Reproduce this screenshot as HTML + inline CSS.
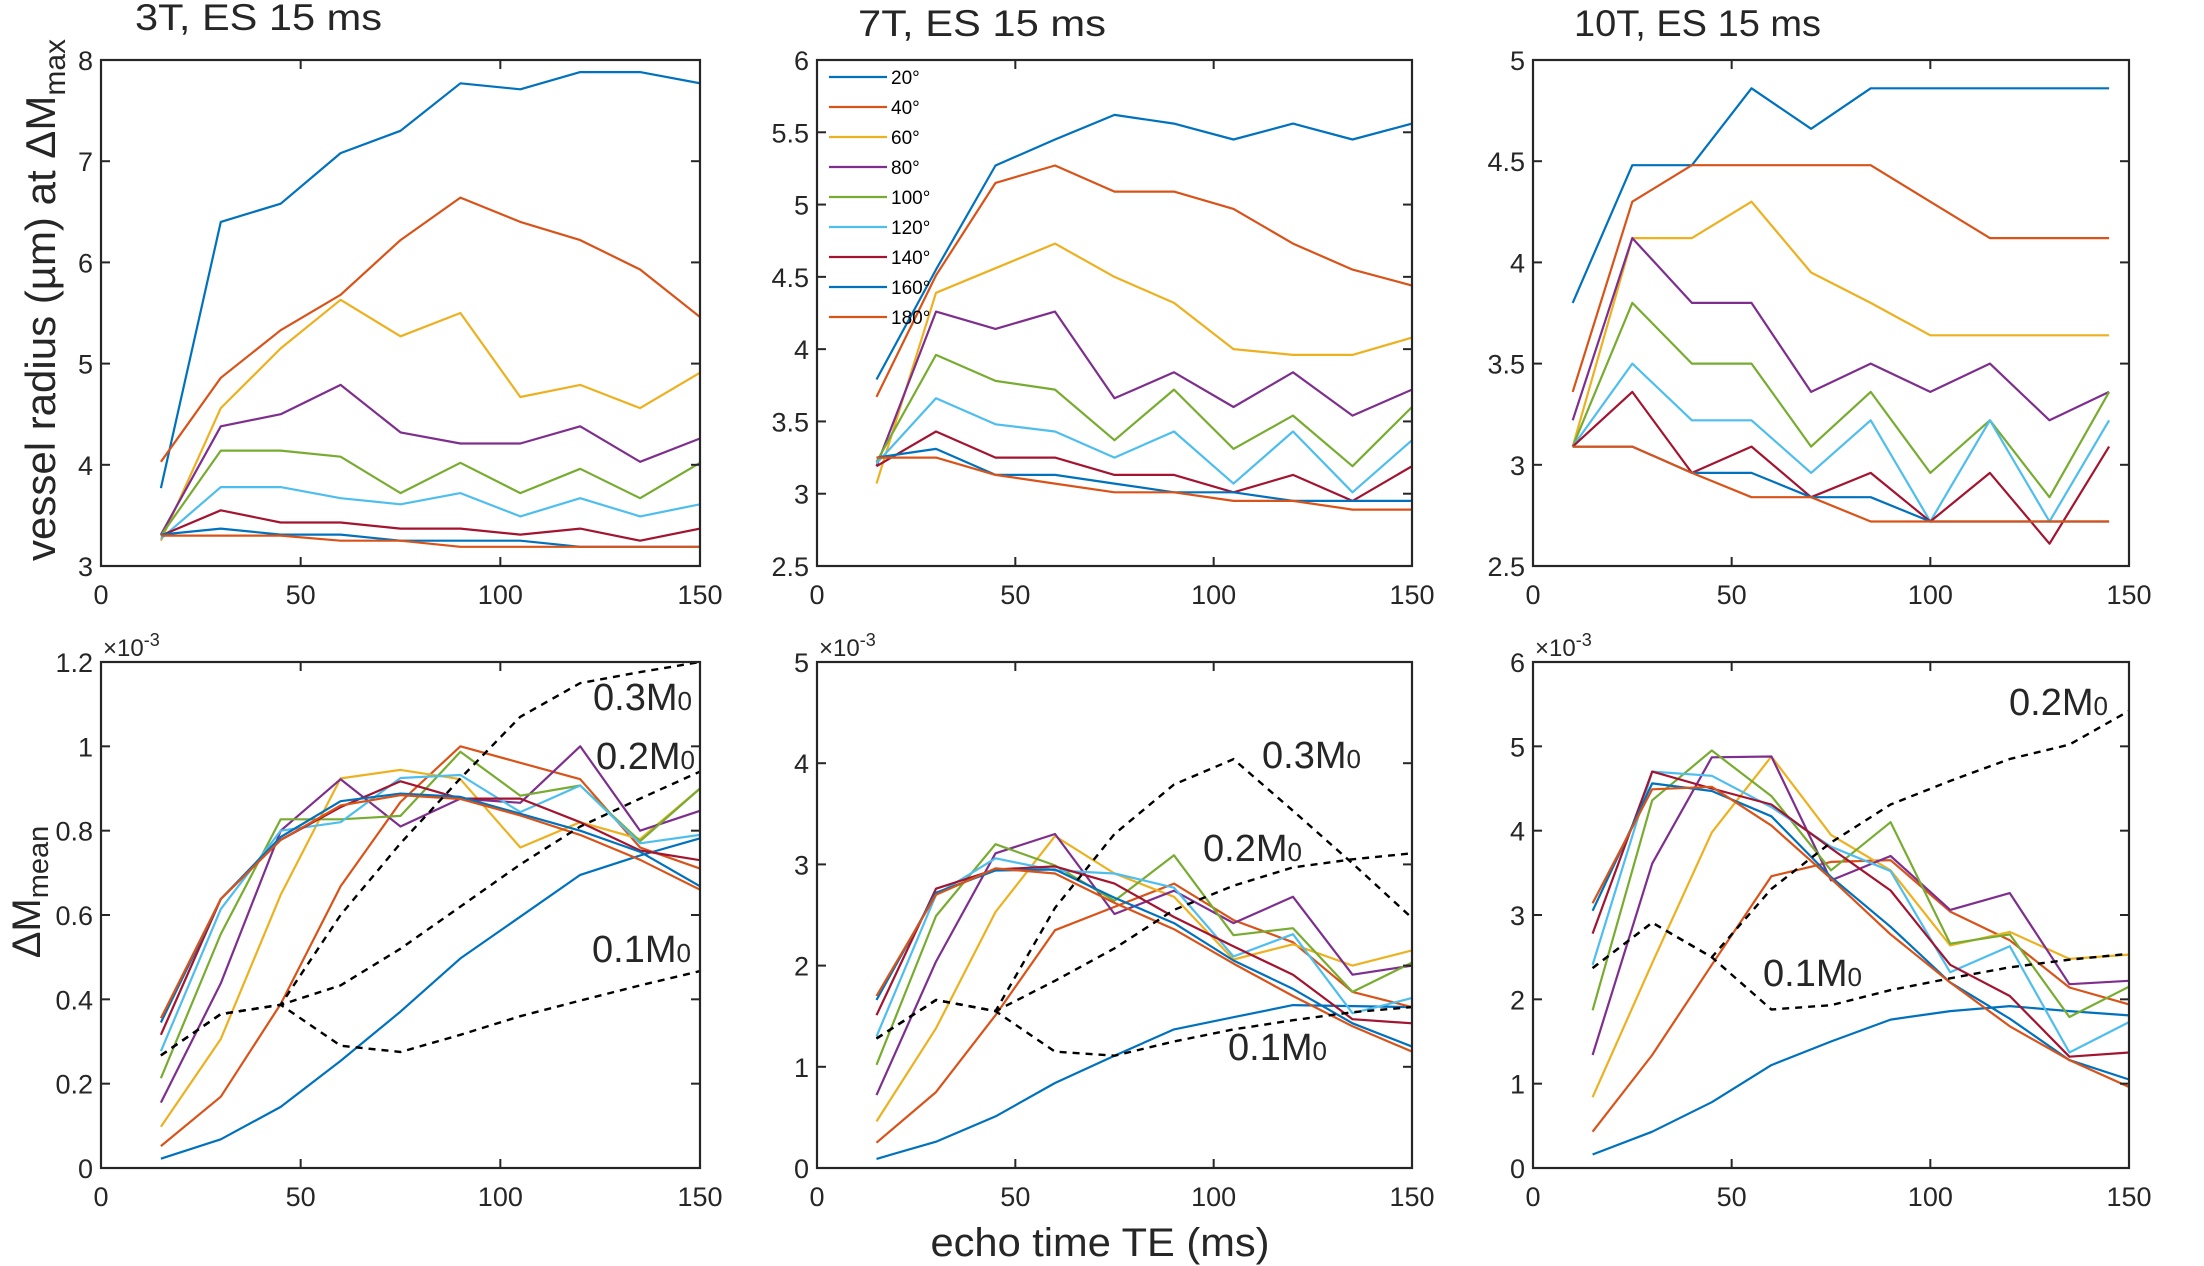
<!DOCTYPE html>
<html><head><meta charset="utf-8">
<style>
html,body{margin:0;padding:0;background:#fff;}
svg{display:block;font-family:"Liberation Sans",Arial,sans-serif;}
</style></head>
<body>
<svg id="fig" width="2204" height="1266" viewBox="0 0 2204 1266" xmlns="http://www.w3.org/2000/svg">
<rect width="2204" height="1266" fill="#fff"/>
<g id="layer"></g>
<text x="135" y="30" font-size="37" fill="#262626" textLength="247" lengthAdjust="spacingAndGlyphs">3T, ES 15 ms</text>
<text x="858" y="36" font-size="37" fill="#262626" textLength="248" lengthAdjust="spacingAndGlyphs">7T, ES 15 ms</text>
<text x="1574" y="36" font-size="37" fill="#262626" textLength="247" lengthAdjust="spacingAndGlyphs">10T, ES 15 ms</text>
<text transform="translate(55,300) rotate(-90)" text-anchor="middle" font-size="42" fill="#262626">vessel radius (µm) at ΔM<tspan font-size="30" dy="10">max</tspan></text>
<text transform="translate(40,892) rotate(-90)" text-anchor="middle" font-size="40" fill="#262626">ΔM<tspan font-size="29" dy="8">mean</tspan></text>
<text x="1100" y="1256" text-anchor="middle" font-size="40" fill="#262626" textLength="339" lengthAdjust="spacingAndGlyphs">echo time TE (ms)</text>
</svg>
<script>
// ---------- data ----------
const colors=['#0072BD','#D95319','#EDB120','#7E2F8E','#77AC30','#4DBEEE','#A2142F','#0072BD','#D95319'];
const angles=['20°','40°','60°','80°','100°','120°','140°','160°','180°'];
const teTop=[15,30,45,60,75,90,105,120,135,150];
const teTop10=[10,25,40,55,70,85,100,115,130,145];
const teBottom=[15,30,45,60,75,90,105,120,135,150];

const r3=[
[3.77,6.40,6.58,7.08,7.30,7.77,7.71,7.88,7.88,7.77],
[4.03,4.86,5.33,5.68,6.22,6.64,6.40,6.22,5.93,5.46],
[3.25,4.56,5.15,5.63,5.27,5.50,4.67,4.79,4.56,4.91],
[3.31,4.38,4.50,4.79,4.32,4.21,4.21,4.38,4.03,4.26],
[3.30,4.14,4.14,4.08,3.72,4.02,3.72,3.96,3.67,4.02],
[3.27,3.78,3.78,3.67,3.61,3.72,3.49,3.67,3.49,3.61],
[3.30,3.55,3.43,3.43,3.37,3.37,3.31,3.37,3.25,3.37],
[3.31,3.37,3.31,3.31,3.25,3.25,3.25,3.19,3.19,3.19],
[3.30,3.30,3.30,3.25,3.25,3.19,3.19,3.19,3.19,3.19]];
const r7=[
[3.79,4.55,5.27,5.45,5.62,5.56,5.45,5.56,5.45,5.56],
[3.67,4.51,5.15,5.27,5.09,5.09,4.97,4.73,4.55,4.44],
[3.07,4.39,4.56,4.73,4.50,4.32,4.00,3.96,3.96,4.08],
[3.19,4.26,4.14,4.26,3.66,3.84,3.60,3.84,3.54,3.72],
[3.22,3.96,3.78,3.72,3.37,3.72,3.31,3.54,3.19,3.60],
[3.21,3.66,3.48,3.43,3.25,3.43,3.07,3.43,3.01,3.37],
[3.19,3.43,3.25,3.25,3.13,3.13,3.01,3.13,2.95,3.19],
[3.25,3.31,3.13,3.13,3.07,3.01,3.01,2.95,2.95,2.95],
[3.25,3.25,3.13,3.07,3.01,3.01,2.95,2.95,2.89,2.89]];
const r10=[
[3.80,4.48,4.48,4.86,4.66,4.86,4.86,4.86,4.86,4.86],
[3.36,4.30,4.48,4.48,4.48,4.48,4.30,4.12,4.12,4.12],
[3.09,4.12,4.12,4.30,3.95,3.80,3.64,3.64,3.64,3.64],
[3.22,4.12,3.80,3.80,3.36,3.50,3.36,3.50,3.22,3.36],
[3.09,3.80,3.50,3.50,3.09,3.36,2.96,3.22,2.84,3.36],
[3.09,3.50,3.22,3.22,2.96,3.22,2.72,3.22,2.72,3.22],
[3.09,3.36,2.96,3.09,2.84,2.96,2.72,2.96,2.61,3.09],
[3.09,3.09,2.96,2.96,2.84,2.84,2.72,2.72,2.72,2.72],
[3.09,3.09,2.96,2.84,2.84,2.72,2.72,2.72,2.72,2.72]];

const m3=[
[0.022,0.068,0.145,0.254,0.371,0.497,0.596,0.695,0.741,0.782],
[0.052,0.169,0.389,0.668,0.868,1.000,0.961,0.922,0.760,0.710],
[0.098,0.306,0.648,0.924,0.944,0.922,0.760,0.820,0.780,0.900],
[0.155,0.438,0.800,0.922,0.810,0.876,0.866,1.000,0.800,0.847],
[0.213,0.555,0.827,0.827,0.835,0.987,0.883,0.907,0.775,0.900],
[0.277,0.614,0.800,0.820,0.925,0.932,0.844,0.907,0.770,0.790],
[0.316,0.638,0.778,0.856,0.917,0.876,0.876,0.820,0.753,0.730],
[0.345,0.638,0.785,0.870,0.888,0.880,0.840,0.800,0.750,0.668],
[0.355,0.638,0.778,0.860,0.884,0.875,0.836,0.790,0.731,0.660]];
const d3_01=[0.267,0.365,0.387,0.290,0.275,0.316,0.360,0.397,0.433,0.467];
const d3_02=[0.267,0.365,0.387,0.433,0.520,0.620,0.720,0.810,0.876,0.940];
const d3_03=[0.267,0.365,0.387,0.600,0.770,0.924,1.070,1.150,1.176,1.200];

const m7=[
[0.09,0.26,0.51,0.84,1.11,1.37,1.49,1.61,1.60,1.59],
[0.25,0.75,1.51,2.35,2.58,2.81,2.45,2.23,1.74,1.59],
[0.46,1.38,2.53,3.28,2.91,2.68,2.06,2.21,2.00,2.15],
[0.72,2.04,3.11,3.30,2.51,2.74,2.42,2.68,1.91,2.00],
[1.02,2.49,3.20,2.99,2.64,3.09,2.30,2.37,1.74,2.03],
[1.30,2.70,3.06,2.94,2.91,2.77,2.09,2.31,1.53,1.68],
[1.51,2.76,2.95,2.98,2.81,2.48,2.19,1.91,1.47,1.43],
[1.66,2.72,2.94,2.95,2.67,2.42,2.05,1.77,1.43,1.20],
[1.70,2.70,2.96,2.91,2.62,2.36,2.02,1.70,1.40,1.15]];
const d7_01=[1.28,1.66,1.55,1.15,1.11,1.25,1.37,1.46,1.54,1.59];
const d7_02=[1.28,1.66,1.55,1.85,2.17,2.55,2.79,2.97,3.05,3.11];
const d7_03=[1.28,1.66,1.55,2.57,3.30,3.79,4.04,3.53,3.01,2.47];

const m10=[
[0.16,0.43,0.78,1.22,1.50,1.76,1.86,1.92,1.86,1.81],
[0.43,1.34,2.41,3.46,3.63,3.65,3.04,2.70,2.14,1.94],
[0.84,2.43,3.98,4.88,3.95,3.53,2.64,2.80,2.48,2.53],
[1.34,3.61,4.87,4.88,3.41,3.70,3.06,3.26,2.18,2.22],
[1.87,4.36,4.95,4.41,3.53,4.10,2.66,2.77,1.79,2.15],
[2.41,4.70,4.65,4.28,3.81,3.52,2.32,2.63,1.37,1.73],
[2.78,4.70,4.50,4.31,3.79,3.29,2.41,2.04,1.32,1.37],
[3.05,4.56,4.47,4.17,3.45,2.86,2.20,1.77,1.28,1.05],
[3.14,4.49,4.52,4.06,3.43,2.77,2.20,1.68,1.28,0.96]];
const d10_01=[2.37,2.91,2.50,1.88,1.93,2.11,2.25,2.38,2.47,2.54];
const d10_02=[2.37,2.91,2.50,3.31,3.86,4.31,4.59,4.85,5.02,5.42];

const xTicks=[0,50,100,150];
const yT3=[3,4,5,6,7,8], yT7=[2.5,3,3.5,4,4.5,5,5.5,6], yT10=[2.5,3,3.5,4,4.5,5];
const yB3=[0,0.2,0.4,0.6,0.8,1,1.2], yB7=[0,1,2,3,4,5], yB10=[0,1,2,3,4,5,6];
const dashLabels3=['0.1','0.2','0.3'], dashLabels7=['0.1','0.2','0.3'], dashLabels10=['0.1','0.2'];

// ---------- drawing ----------
const NS='http://www.w3.org/2000/svg';
const layer=document.getElementById('layer');
function mk(tag,attrs,parent){const e=document.createElementNS(NS,tag);for(const k in attrs)e.setAttribute(k,attrs[k]);(parent||layer).appendChild(e);return e;}

function panel(name,box,ymin,ymax,yticks,xs,series,dashes){
  const g=mk('g',{});
  
  
  const sx=v=>box.x0+(v-0)/(150-0)*(box.x1-box.x0);
  const sy=v=>box.y1-(v-ymin)/(ymax-ymin)*(box.y1-box.y0);
  const clip='clip-'+name;
  const cp=mk('clipPath',{id:clip},g);
  mk('rect',{x:box.x0,y:box.y0,width:box.x1-box.x0,height:box.y1-box.y0},cp);
  const sg=mk('g',{'clip-path':'url(#'+clip+')'},g);
  series.forEach((s,i)=>{
    const p=mk('polyline',{points:s.map((v,j)=>sx(xs[j]).toFixed(1)+','+sy(v).toFixed(1)).join(' '),fill:'none',stroke:colors[i],'stroke-width':2.2,'stroke-linejoin':'round'},sg);
    
    
  });
  (dashes||[]).forEach((d,i)=>{
    const p=mk('polyline',{points:d.map((v,j)=>sx(xs[j]).toFixed(1)+','+sy(v).toFixed(1)).join(' '),fill:'none',stroke:'#000','stroke-width':2.4,'stroke-dasharray':'7,6'},sg);
    
    
  });
  const r=mk('rect',{x:box.x0,y:box.y0,width:box.x1-box.x0,height:box.y1-box.y0,fill:'none',stroke:'#262626','stroke-width':2.2},g);
  
  
  xTicks.forEach(t=>{
    const x=sx(t);
    mk('line',{x1:x,x2:x,y1:box.y1,y2:box.y1-9,stroke:'#262626','stroke-width':2},g);
    mk('line',{x1:x,x2:x,y1:box.y0,y2:box.y0+9,stroke:'#262626','stroke-width':2},g);
    const tx=mk('text',{x:x,y:box.y1+38,'text-anchor':'middle','font-size':27,fill:'#262626'},g);
    tx.textContent=t;
    
    
  });
  yticks.forEach(t=>{
    const y=sy(t);
    mk('line',{x1:box.x0,x2:box.x0+9,y1:y,y2:y,stroke:'#262626','stroke-width':2},g);
    mk('line',{x1:box.x1,x2:box.x1-9,y1:y,y2:y,stroke:'#262626','stroke-width':2},g);
    const ty=mk('text',{x:box.x0-8,y:y+10,'text-anchor':'end','font-size':27,fill:'#262626'},g);
    ty.textContent=String(t);
    
    
  });
  return {sx,sy,g};
}

const T={y0:60,y1:566}, B={y0:662,y1:1168};
const C=[{x0:101,x1:700},{x0:817,x1:1412},{x0:1533,x1:2129}];

panel('panel-3t-radius',{x0:C[0].x0,x1:C[0].x1,y0:T.y0,y1:T.y1},3,8,yT3,teTop,r3);
panel('panel-7t-radius',{x0:C[1].x0,x1:C[1].x1,y0:T.y0,y1:T.y1},2.5,6,yT7,teTop,r7);
panel('panel-10t-radius',{x0:C[2].x0,x1:C[2].x1,y0:T.y0,y1:T.y1},2.5,5,yT10,teTop10,r10);
panel('panel-3t-signal',{x0:C[0].x0,x1:C[0].x1,y0:B.y0,y1:B.y1},0,1.2,yB3,teBottom,m3,[d3_01,d3_02,d3_03]);
panel('panel-7t-signal',{x0:C[1].x0,x1:C[1].x1,y0:B.y0,y1:B.y1},0,5,yB7,teBottom,m7,[d7_01,d7_02,d7_03]);
panel('panel-10t-signal',{x0:C[2].x0,x1:C[2].x1,y0:B.y0,y1:B.y1},0,6,yB10,teBottom,m10,[d10_01,d10_02]);

// legend (in 7T top panel)
const lg=mk('g',{});


angles.forEach((a,i)=>{
  const y=77+i*30;
  mk('line',{x1:829,x2:887,y1:y,y2:y,stroke:colors[i],'stroke-width':2.2},lg);
  const t=mk('text',{x:891,y:y+7,'font-size':19,fill:'#000'},lg);
  t.textContent=a;
  
  
});

// exponent labels
[[C[0].x0],[C[1].x0],[C[2].x0]].forEach(([x])=>{
  const t=mk('text',{x:x+2,y:656,'font-size':24,fill:'#262626'});
  t.innerHTML='×10<tspan dy="-10" font-size="18">-3</tspan>';
  
  
});

// dashed line annotations
function ann(x,y,lab){
  const t=mk('text',{x:x,y:y,'font-size':38,fill:'#262626'});
  t.innerHTML=lab+'M<tspan font-size="26">0</tspan>';
  
  
}
ann(593,710,dashLabels3[2]); ann(596,769,dashLabels3[1]); ann(592,962,dashLabels3[0]);
ann(1262,768,dashLabels7[2]); ann(1203,861,dashLabels7[1]); ann(1228,1060,dashLabels7[0]);
ann(2009,715,dashLabels10[1]); ann(1763,986,dashLabels10[0]);
</script>
</body></html>
